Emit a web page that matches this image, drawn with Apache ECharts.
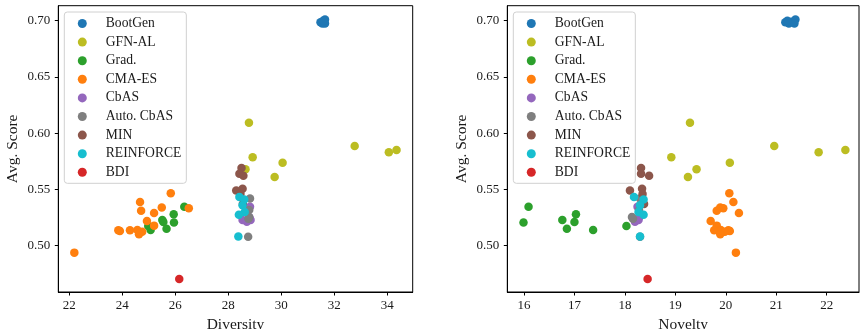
<!DOCTYPE html>
<html>
<head>
<meta charset="utf-8">
<script src="https://cdn.jsdelivr.net/npm/echarts@6/dist/echarts.min.js"></script>
<style>
  html, body { margin: 0; padding: 0; background: #fff; }
  #chart { width: 860px; height: 329px; }
</style>
</head>
<body>
<div id="chart"></div>
<script>
// method names, legend order
const methods = ['BootGen', 'GFN-AL', 'Grad.', 'CMA-ES', 'CbAS', 'Auto. CbAS', 'MIN', 'REINFORCE', 'BDI'];

// avg score / diversity / novelty per run
const bootGenScore = [0.6985, 0.6975, 0.6990, 0.7010, 0.6975, 0.7000];
const bootGenDiv   = [31.48, 31.55, 31.60, 31.65, 31.65, 31.58];
const bootGenNov   = [21.18, 21.25, 21.30, 21.38, 21.36, 21.22];

const gfnScore = [0.6093, 0.5785, 0.5680, 0.5610, 0.5738, 0.5886, 0.5830, 0.5850];
const gfnDiv   = [28.78, 28.92, 28.65, 29.75, 30.05, 32.77, 34.06, 34.35];
const gfnNov   = [19.29, 18.92, 19.42, 19.25, 20.08, 20.96, 21.84, 22.37];

const gradScore = [0.5345, 0.5280, 0.5205, 0.5150, 0.5228, 0.5140, 0.5175, 0.5210];
const gradDiv   = [26.34, 25.94, 25.95, 25.67, 25.51, 25.07, 24.98, 25.55];
const gradNov   = [16.09, 17.03, 15.99, 16.85, 16.76, 17.37, 18.03, 17.00];

const cmaScore = [0.5466, 0.5388, 0.5340, 0.5332, 0.5311, 0.5290, 0.5220, 0.5178, 0.5140, 0.5137, 0.5137, 0.5130, 0.5124, 0.5101, 0.4938];
const cmaDiv   = [25.83, 24.67, 25.49, 26.51, 24.71, 25.20, 24.93, 25.20, 24.57, 23.85, 24.29, 23.91, 24.75, 24.63, 22.19];
const cmaNov   = [20.07, 20.15, 19.89, 19.95, 19.82, 20.26, 19.70, 19.82, 19.90, 19.77, 20.05, 20.08, 19.98, 19.89, 20.20];

const cbasScore = [0.5345, 0.5228, 0.5228, 0.5213, 0.5250];
const cbasDiv   = [28.82, 28.54, 28.84, 28.70, 28.80];
const cbasNov   = [18.25, 18.22, 18.27, 18.20, 18.28];

const autoScore = [0.5420, 0.5317, 0.5255, 0.5240, 0.5080];
const autoDiv   = [28.82, 28.79, 28.79, 28.76, 28.75];
const autoNov   = [18.30, 18.28, 18.14, 18.16, 18.30];

const minScore = [0.5690, 0.5640, 0.5622, 0.5490, 0.5505, 0.5460, 0.5370];
const minDiv   = [28.50, 28.42, 28.57, 28.30, 28.54, 28.46, 28.55];
const minNov   = [18.32, 18.32, 18.48, 18.10, 18.34, 18.35, 18.38];

const reinScore = [0.5432, 0.5410, 0.5360, 0.5300, 0.5275, 0.5082];
const reinDiv   = [28.42, 28.60, 28.54, 28.62, 28.40, 28.38];
const reinNov   = [18.18, 18.37, 18.30, 18.27, 18.37, 18.30];

const bdiScore = [0.4704];
const bdiDiv   = [26.15];
const bdiNov   = [18.45];

const scores    = [bootGenScore, gfnScore, gradScore, cmaScore, cbasScore, autoScore, minScore, reinScore, bdiScore];
const diversity = [bootGenDiv, gfnDiv, gradDiv, cmaDiv, cbasDiv, autoDiv, minDiv, reinDiv, bdiDiv];
const novelty   = [bootGenNov, gfnNov, gradNov, cmaNov, cbasNov, autoNov, minNov, reinNov, bdiNov];

// tick labels
const divTicks = [22, 24, 26, 28, 30, 32, 34];
const novTicks = [16, 17, 18, 19, 20, 21, 22];
const scoreTicks = [0.50, 0.55, 0.60, 0.65, 0.70];

// tab10 colours
const colors = ['#1f77b4', '#bcbd22', '#2ca02c', '#ff7f0e', '#9467bd', '#7f7f7f', '#8c564b', '#17becf', '#d62728'];

const font = 'Liberation Serif';
const txt = '#1a1a1a';

const chart = echarts.init(document.getElementById('chart'));

const zip = (xs, ys) => xs.map((x, i) => [x, ys[i]]);

function xAxisOf(idx, name, min, max, ticks) {
    return {
        gridIndex: idx, type: 'value', min: min, max: max,
        name: name, nameLocation: 'middle', nameGap: 24,
        nameTextStyle: { fontFamily: font, fontSize: 15.5, color: txt },
        axisLine: { show: true, lineStyle: { color: '#000', width: 1 } },
        axisTick: { show: true, length: 3.5, lineStyle: { color: '#000' }, customValues: ticks },
        axisLabel: { fontFamily: font, fontSize: 13, color: txt, margin: 7, customValues: ticks },
        splitLine: { show: false }
    };
}
function yAxisOf(idx) {
    return {
        gridIndex: idx, type: 'value', min: 0.4588, max: 0.7133,
        name: 'Avg. Score', nameLocation: 'middle', nameGap: 37,
        nameTextStyle: { fontFamily: font, fontSize: 15.5, color: txt },
        axisLine: { show: true, lineStyle: { color: '#000', width: 1 } },
        axisTick: { show: true, length: 3.5, lineStyle: { color: '#000' }, customValues: scoreTicks },
        axisLabel: { fontFamily: font, fontSize: 13, color: txt, margin: 8, customValues: scoreTicks,
                     formatter: v => v.toFixed(2) },
        splitLine: { show: false }
    };
}
function legendOf(left) {
    return {
        data: methods, left: left, top: 12, orient: 'vertical',
        icon: 'circle', itemWidth: 9, itemHeight: 9, itemGap: 4.6,
        padding: [4.5, 5, 4, 13.5],
        backgroundColor: 'rgba(255,255,255,0.8)',
        borderColor: '#d0d0d0', borderWidth: 1, borderRadius: 3,
        textStyle: { fontFamily: font, fontSize: 13.6, color: txt, lineHeight: 14, padding: [0, 0, 0, 14] },
        selectedMode: false
    };
}

const series = [];
[diversity, novelty].forEach((xs, g) => {
    methods.forEach((m, i) => {
        series.push({
            name: m, type: 'scatter', xAxisIndex: g, yAxisIndex: g,
            symbolSize: 8.5, itemStyle: { color: colors[i], opacity: 1 },
            z: 2 + i, data: zip(xs[i], scores[i])
        });
    });
});

chart.setOption({
    animation: false,
    color: colors,
    grid: [
        { left: 58.3, top: 5.7, width: 354.4, height: 286.3, show: true, borderColor: '#000', borderWidth: 1,
          outerBoundsMode: 'none' },
        { left: 507.3, top: 5.7, width: 351.7, height: 286.3, show: true, borderColor: '#000', borderWidth: 1,
          outerBoundsMode: 'none' }
    ],
    xAxis: [
        xAxisOf(0, 'Diversity', 21.585, 34.96, divTicks),
        xAxisOf(1, 'Novelty', 15.669, 22.64, novTicks)
    ],
    yAxis: [yAxisOf(0), yAxisOf(1)],
    legend: [legendOf(64.3), legendOf(513.3)],
    series: series
});
</script>
</body>
</html>
